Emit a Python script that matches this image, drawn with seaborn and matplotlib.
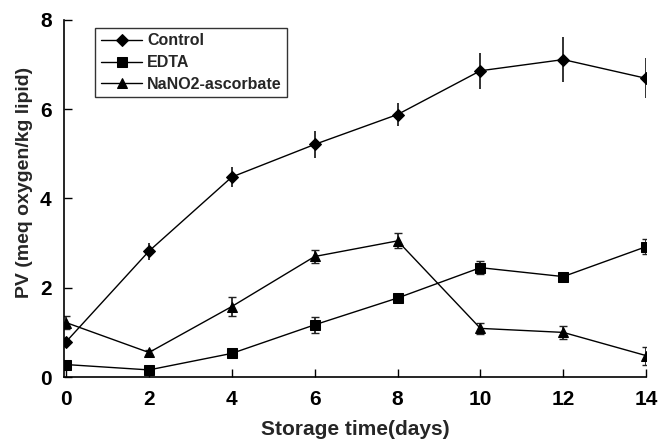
import numpy as np
import pandas as pd
import seaborn as sns
import matplotlib
matplotlib.use("Agg")
import matplotlib.pyplot as plt

days = [0, 2, 4, 6, 8, 10, 12, 14]
control = [0.79, 2.82, 4.48, 5.21, 5.88, 6.86, 7.11, 6.69]
control_err = [0.05, 0.19, 0.22, 0.31, 0.25, 0.40, 0.50, 0.45]
edta = [0.28, 0.16, 0.53, 1.17, 1.77, 2.45, 2.25, 2.92]
edta_err = [0.06, 0.04, 0.06, 0.18, 0.07, 0.14, 0.07, 0.17]
nano2 = [1.22, 0.55, 1.58, 2.70, 3.05, 1.09, 1.00, 0.48]
nano2_err = [0.15, 0.05, 0.22, 0.14, 0.17, 0.12, 0.15, 0.20]
series_names = ["Control", "EDTA", "NaNO2-ascorbate"]
y_ticks = [0, 2, 4, 6, 8]
x_ticks = [0, 2, 4, 6, 8, 10, 12, 14]

sns.set_theme(style="ticks")
plt.rcParams['font.family'] = ['Liberation Sans', 'DejaVu Sans']
plt.rcParams['font.weight'] = 'bold'

df = pd.DataFrame({
    "day": days * 3,
    "pv": control + edta + nano2,
    "err": control_err + edta_err + nano2_err,
    "group": [series_names[0]] * 8 + [series_names[1]] * 8 + [series_names[2]] * 8,
})

fig = plt.figure(figsize=(6.6, 4.41), dpi=100)
ax = fig.add_axes([0.097, 0.145, 0.882, 0.81])

markers = {"Control": "D", "EDTA": "s", "NaNO2-ascorbate": "^"}
msize = {"D": 6, "s": 7, "^": 7.5}
caps = {"Control": 0, "EDTA": 3, "NaNO2-ascorbate": 3}

for name in series_names:
    sub = df[df["group"] == name]
    ax.errorbar(sub["day"], sub["pv"], yerr=sub["err"], fmt="none",
                ecolor="#222222", elinewidth=1.3, capsize=caps[name], capthick=1.0, zorder=2)

sns.lineplot(data=df, x="day", y="pv", hue="group", style="group",
             markers=markers, dashes=False, palette=["black"] * 3,
             markersize=7, linewidth=1.0, markeredgecolor="black",
             ax=ax, zorder=3, legend=True)

for ln in ax.lines:
    m = ln.get_marker()
    if m in msize:
        ln.set_markersize(msize[m])

ax.set_xlim(-0.05, 14)
ax.set_ylim(0, 8)
ax.set_xticks(x_ticks)
ax.set_yticks(y_ticks)
ax.tick_params(direction="in", length=6, width=1, labelsize=15, colors="black")
ax.tick_params(axis="y", pad=9)
ax.tick_params(axis="x", pad=9)
for lab in ax.get_xticklabels() + ax.get_yticklabels():
    lab.set_fontweight("bold")
for s in ["top", "right"]:
    ax.spines[s].set_visible(False)
for s in ["left", "bottom"]:
    ax.spines[s].set_linewidth(1.2)
    ax.spines[s].set_color("black")

ax.set_xlabel("Storage time(days)", fontsize=15, fontweight="bold")
ax.set_ylabel("PV (meq oxygen/kg lipid)", fontsize=14, fontweight="bold")
ax.xaxis.set_label_coords(0.5, -0.12)
ax.yaxis.set_label_coords(-0.053, 0.545)

leg = ax.legend(loc="upper left", bbox_to_anchor=(0.04, 1.0), frameon=True,
                fancybox=False, edgecolor="black", fontsize=11.5, handlelength=2.6,
                borderpad=0.35, labelspacing=0.42, handletextpad=0.3)
leg.get_frame().set_linewidth(1.0)
for t in leg.get_texts():
    t.set_fontweight("bold")
for h in leg.legend_handles:
    m = h.get_marker()
    if m in msize:
        h.set_markersize(msize[m])

fig.savefig("out.png", dpi=100)
